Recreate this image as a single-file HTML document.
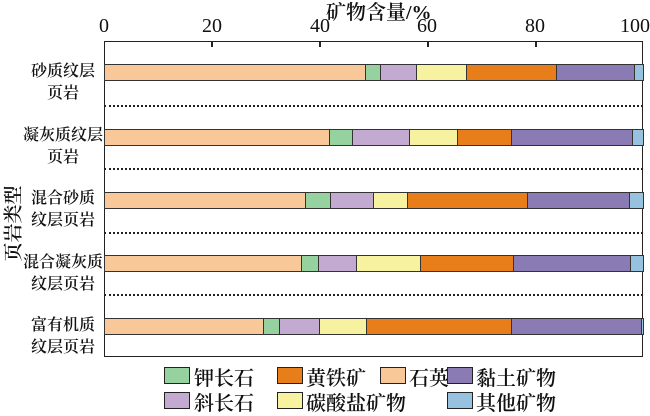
<!DOCTYPE html>
<html><head><meta charset="utf-8"><style>
body{margin:0;width:650px;height:410px;background:#fff;position:relative;overflow:hidden;font-family:"Liberation Serif","Noto Serif CJK SC",serif;color:#111}
.a{position:absolute;white-space:nowrap}
.box{position:absolute;left:104px;top:41px;width:539px;height:316px;border:1.5px solid #222;box-sizing:border-box}
.bar{position:absolute;height:17px;border:1.2px solid #333;box-sizing:border-box}
.t{position:absolute;font-size:20px}
.yl{position:absolute;font-size:16px;text-align:center;width:90px;left:18px;line-height:22px;white-space:nowrap;font-weight:600}
.dot{position:absolute;left:104px;width:539px;border-top:2.5px dotted #222}
.lg{position:absolute;width:26px;height:17px;border:1.5px solid #222;box-sizing:border-box}
.lt{position:absolute;font-size:20px;white-space:nowrap;font-weight:600}
.tk{position:absolute;top:41px;width:1.5px;height:6px;background:#222}
</style></head><body>
<div class="a" style="left:326px;top:-4px;font-size:20px;font-weight:600">矿物含量/%</div>
<div class="t" style="left:99px;top:15px">0</div>
<div class="t" style="left:202px;top:15px">20</div>
<div class="t" style="left:310px;top:15px">40</div>
<div class="t" style="left:417px;top:15px">60</div>
<div class="t" style="left:525px;top:15px">80</div>
<div class="t" style="left:620px;top:15px">100</div>
<div class="box"></div>
<div class="tk" style="left:211px"></div><div class="tk" style="left:319px"></div><div class="tk" style="left:427px"></div><div class="tk" style="left:535px"></div>
<div class="a" style="left:-32px;top:210px;font-size:19px;font-weight:600;transform:rotate(-90deg);width:88px;text-align:center">页岩类型</div>
<div class="yl" style="top:61px">砂质纹层<br>页岩</div>
<div class="yl" style="top:125px">凝灰质纹层<br>页岩</div>
<div class="yl" style="top:188px">混合砂质<br>纹层页岩</div>
<div class="yl" style="top:252px">混合凝灰质<br>纹层页岩</div>
<div class="yl" style="top:315px">富有机质<br>纹层页岩</div>
<div class="dot" style="top:105px"></div>
<div class="dot" style="top:168px"></div>
<div class="dot" style="top:232px"></div>
<div class="dot" style="top:294px"></div>
<div id="bars"></div>
<script>
var C=['#f8c898','#96d2a0','#c2aad0','#f6f2a0','#e87e1a','#8a7bb4','#96c2e0'];
var R=[[64,[104,365,380,416,466,556,634,643]],[129,[104,329,352,409,457,511,632,643]],[192,[104,305,330,373,407,527,629,643]],[255,[104,301,318,356,420,513,630,643]],[318,[104,263,279,319,366,511,641,643]]];
var h='';R.forEach(function(r){for(var i=0;i<7;i++){h+='<div class="bar" style="top:'+r[0]+'px;left:'+r[1][i]+'px;width:'+(r[1][i+1]-r[1][i]+1)+'px;background:'+C[i]+'"></div>';}});
document.getElementById('bars').innerHTML=h;
</script>
<div class="lg" style="left:164px;top:367px;background:#96d2a0"></div><div class="lt" style="left:194px;top:362px">钾长石</div>
<div class="lg" style="left:277px;top:367px;background:#e87e1a"></div><div class="lt" style="left:306px;top:362px">黄铁矿</div>
<div class="lg" style="left:380px;top:367px;background:#f8c898"></div><div class="lt" style="left:409px;top:362px">石英</div>
<div class="lg" style="left:447px;top:367px;background:#8a7bb4"></div><div class="lt" style="left:476px;top:362px">黏土矿物</div>
<div class="lg" style="left:164px;top:392px;background:#c2aad0"></div><div class="lt" style="left:194px;top:387px">斜长石</div>
<div class="lg" style="left:277px;top:392px;background:#f6f2a0"></div><div class="lt" style="left:306px;top:387px">碳酸盐矿物</div>
<div class="lg" style="left:447px;top:392px;background:#96c2e0"></div><div class="lt" style="left:476px;top:387px">其他矿物</div>
</body></html>
